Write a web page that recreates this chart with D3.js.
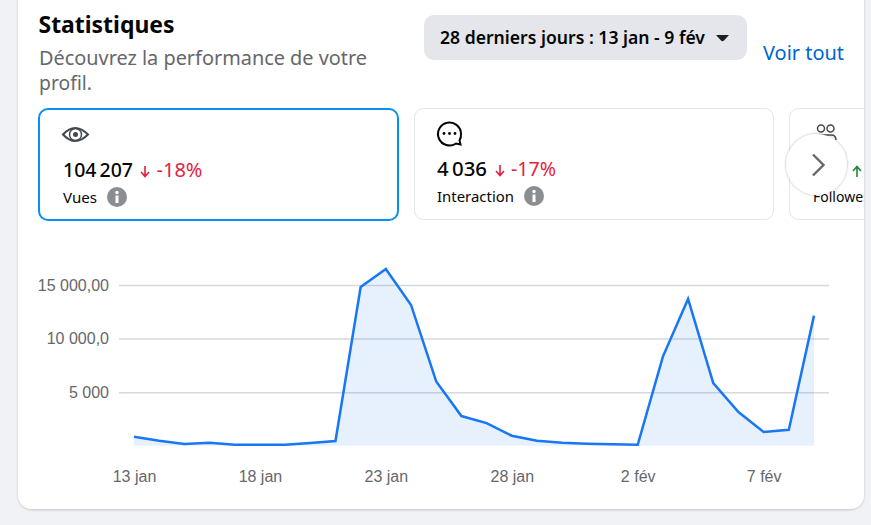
<!DOCTYPE html>
<html>
<head>
<meta charset="utf-8">
<script src="https://cdn.jsdelivr.net/npm/d3@7"></script>
<style>
  html, body { margin: 0; padding: 0; background: #f0f2f5; overflow: hidden; }
  svg { display: block; }
  text { font-family: "Noto Sans", sans-serif; }
  .tick text { font-family: "Liberation Sans", Arial, sans-serif; }
</style>
</head>
<body>
<svg id="chart" width="871" height="525"></svg>
<script>
// daily views, 13 jan -> 9 fev
var days = ["13 jan","14 jan","15 jan","16 jan","17 jan","18 jan","19 jan","20 jan","21 jan","22 jan",
  "23 jan","24 jan","25 jan","26 jan","27 jan","28 jan","29 jan","30 jan","31 jan","1 fév",
  "2 fév","3 fév","4 fév","5 fév","6 fév","7 fév","8 fév","9 fév"];
var views = [838,466,155,280,93,90,90,250,440,14810,
  16490,13135,6000,2765,2110,930,466,280,186,125,
  90,8320,13695,5840,3140,1275,1490,12140];
var xTickLabels = ["13 jan","18 jan","23 jan","28 jan","2 fév","7 fév"];
var yTicks = [5000,10000,15000];
var yTickLabels = ["5 000","10 000,0","15 000,00"];

var svg = d3.select("#chart");

var defs = svg.append("defs");
var shadow = defs.append("filter").attr("id", "shadow")
  .attr("x", "-5%").attr("y", "-5%").attr("width", "110%").attr("height", "110%");
shadow.append("feDropShadow").attr("dx", 0).attr("dy", 1).attr("stdDeviation", 1.2)
  .attr("flood-color", "#000").attr("flood-opacity", 0.2);
var btnShadow = defs.append("filter").attr("id", "btnShadow")
  .attr("x", "-20%").attr("y", "-20%").attr("width", "140%").attr("height", "140%");
btnShadow.append("feDropShadow").attr("dx", 0).attr("dy", 0).attr("stdDeviation", 1.2)
  .attr("flood-color", "#000").attr("flood-opacity", 0.4);
defs.append("clipPath").attr("id", "cardClip").append("rect")
  .attr("x", 18).attr("y", -20).attr("width", 846).attr("height", 529);

// main card
svg.append("rect").attr("x", 18).attr("y", -20).attr("width", 846).attr("height", 529)
  .attr("rx", 14).attr("fill", "#fff").attr("filter", "url(#shadow)");

function label(x, y, str, size, color, weight, length) {
  var t = svg.append("text").attr("x", x).attr("y", y).text(str)
    .attr("font-size", size).attr("fill", color).attr("font-weight", weight || 400);
  if (length) t.attr("textLength", length).attr("lengthAdjust", "spacingAndGlyphs");
  return t;
}

// header
label(38.5, 33, "Statistiques", 23, "#050505", 700, 136);
label(39, 65, "Découvrez la performance de votre", 20, "#65676b", 400, 328);
label(39, 90, "profil.", 20, "#65676b", 400, 53);

svg.append("rect").attr("x", 424).attr("y", 15).attr("width", 323).attr("height", 45)
  .attr("rx", 10).attr("fill", "#e4e6eb");
label(440, 44, "28 derniers jours : 13 jan - 9 fév", 18, "#050505", 600, 265);
svg.append("path").attr("d", "M716 35 h13 l-5 5.5 q-1.5 1.5 -3 0 z").attr("fill", "#1c1e21");
label(763, 60, "Voir tout", 20, "#0064d1", 400, 81);

// stat cards
var cardLayer = svg.append("g").attr("clip-path", "url(#cardClip)");
cardLayer.append("rect").attr("x", 39).attr("y", 109).attr("width", 359).attr("height", 111)
  .attr("rx", 9).attr("fill", "#fff").attr("stroke", "#0a8ef5").attr("stroke-width", 2);
cardLayer.append("rect").attr("x", 414.5).attr("y", 108.5).attr("width", 359).attr("height", 111)
  .attr("rx", 9).attr("fill", "#fff").attr("stroke", "#e4e6eb");
cardLayer.append("rect").attr("x", 789.5).attr("y", 108.5).attr("width", 359).attr("height", 111)
  .attr("rx", 9).attr("fill", "#fff").attr("stroke", "#e4e6eb");

function infoIcon(cx, cy) {
  svg.append("circle").attr("cx", cx).attr("cy", cy).attr("r", 10).attr("fill", "#8a8d91");
  svg.append("circle").attr("cx", cx).attr("cy", cy - 4.5).attr("r", 1.7).attr("fill", "#fff");
  svg.append("rect").attr("x", cx - 1.5).attr("y", cy - 1.5).attr("width", 3).attr("height", 7.5).attr("fill", "#fff");
}

function downArrow(x, y) {
  svg.append("path").attr("d", "M" + x + " " + (y - 11) + " v10 M" + (x - 4) + " " + (y - 5) + " l4 4.5 l4 -4.5")
    .attr("fill", "none").attr("stroke", "#e41e3f").attr("stroke-width", 1.6);
}

// card 1: vues
var eye = svg.append("g").attr("fill", "none").attr("stroke", "#444950");
eye.append("path").attr("d", "M63 134.5 q12 -13 25 0 q-13 13 -25 0 z").attr("stroke-width", 2);
eye.append("circle").attr("cx", 75.5).attr("cy", 134.5).attr("r", 6).attr("stroke-width", 1.5);
eye.append("circle").attr("cx", 75.5).attr("cy", 134.5).attr("r", 2.5).attr("fill", "#444950").attr("stroke", "none");
label(63, 177, "104\u202f207", 20, "#050505", 500, 70);
downArrow(145, 177);
label(156.5, 177, "-18%", 20, "#e41e3f", 400, 46);
label(63, 203, "Vues", 14, "#050505", 400, 34);
infoIcon(117, 197);

// card 2: interaction
var bubble = svg.append("g");
bubble.append("path")
  .attr("d", "M461 134 a11.5 11.5 0 1 0 -5 9.5 l4.5 1 l-1 -4 a11.5 11.5 0 0 0 1.5 -6.5 z")
  .attr("fill", "none").attr("stroke", "#050505").attr("stroke-width", 2);
[444, 449.5, 455].forEach(function(cx) {
  bubble.append("circle").attr("cx", cx).attr("cy", 133.5).attr("r", 1.4).attr("fill", "#050505");
});
label(437, 176, "4\u202f036", 20, "#050505", 500, 50);
downArrow(500, 176);
label(511, 176, "-17%", 20, "#e41e3f", 400, 45);
label(437, 202, "Interaction", 14, "#050505", 400, 77);
infoIcon(534, 196);

// card 3: followers, hidden behind the arrow button
var people = cardLayer.append("g").attr("fill", "none").attr("stroke", "#444950").attr("stroke-width", 1.5);
people.append("circle").attr("cx", 821).attr("cy", 128.5).attr("r", 3.5);
people.append("circle").attr("cx", 830.5).attr("cy", 128.5).attr("r", 3.5);
people.append("path").attr("d", "M815 141 q0 -6 6 -6 h10 q5 0 5 5");
cardLayer.append("text").attr("x", 813).attr("y", 202).text("Followers")
  .attr("font-size", 14).attr("fill", "#050505");
cardLayer.append("path").attr("d", "M857 177 v-10 M853 171 l4 -4.5 l4 4.5")
  .attr("fill", "none").attr("stroke", "#1e8a2e").attr("stroke-width", 1.6);

svg.append("circle").attr("cx", 816.5).attr("cy", 164.5).attr("r", 30.5)
  .attr("fill", "#fff").attr("filter", "url(#btnShadow)");
svg.append("path").attr("d", "M813 154.5 l10.5 10.5 l-10.5 10.5")
  .attr("fill", "none").attr("stroke", "#65676b").attr("stroke-width", 2.4);

// chart
var x = d3.scalePoint().domain(days).range([134, 814]);
var y = d3.scaleLinear().domain([0, 15000]).range([445.7, 285]);

svg.append("g")
  .attr("class", "y-axis")
  .attr("transform", "translate(119,0)")
  .call(d3.axisLeft(y).tickValues(yTicks).tickSize(0).tickPadding(10)
    .tickFormat(function(d, i) { return yTickLabels[i]; }))
  .call(function(g) {
    g.select(".domain").remove();
    g.selectAll(".tick line").attr("x2", 710).attr("stroke", "#d5d8dd").attr("stroke-width", 1.5);
    g.selectAll(".tick text").attr("x", -10).attr("font-size", 16).attr("fill", "#65676b");
  });

var area = d3.area()
  .x(function(d, i) { return x(days[i]); })
  .y0(y(0))
  .y1(function(d) { return y(d); });
var line = d3.line()
  .x(function(d, i) { return x(days[i]); })
  .y(function(d) { return y(d); });

svg.append("path").datum(views).attr("d", area)
  .attr("fill", "#1877f2").attr("fill-opacity", 0.1);
svg.append("path").datum(views).attr("d", line)
  .attr("fill", "none").attr("stroke", "#1877f2").attr("stroke-width", 2.5);

svg.append("g")
  .attr("transform", "translate(0,467.5)")
  .call(d3.axisBottom(x).tickValues(xTickLabels).tickSize(0).tickPadding(3))
  .call(function(g) {
    g.select(".domain").remove();
    g.selectAll(".tick text").attr("font-size", 16).attr("fill", "#65676b");
  });
</script>
</body>
</html>
